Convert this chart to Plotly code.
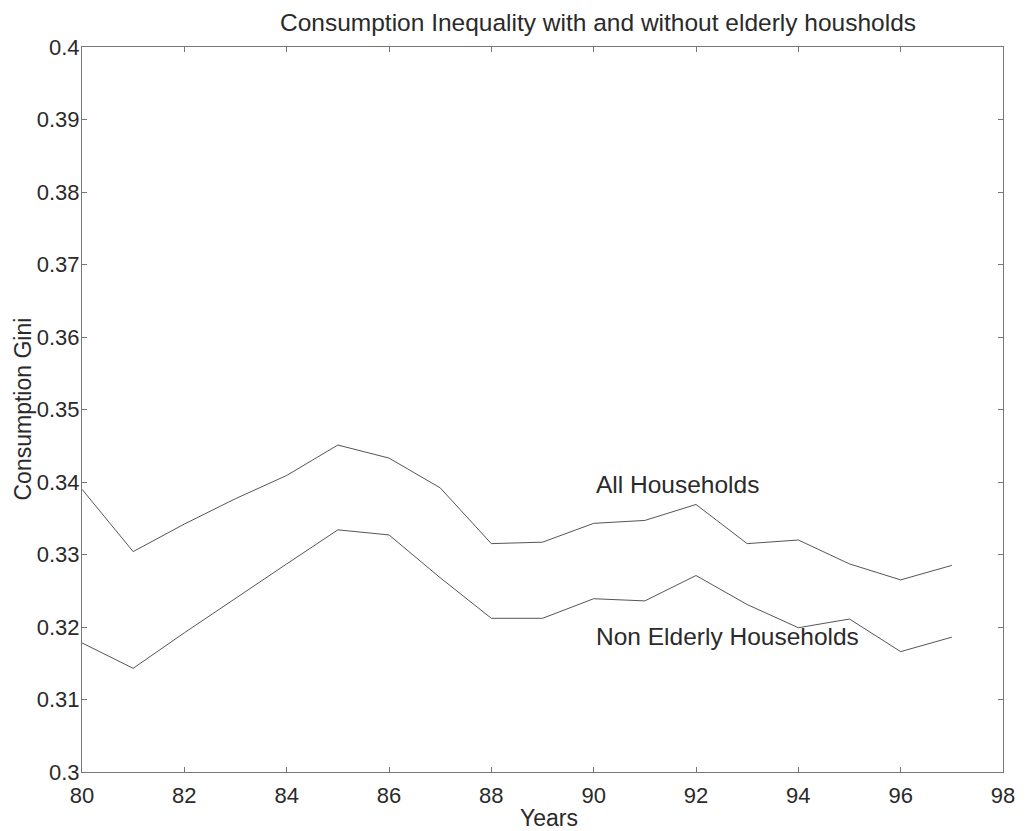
import plotly.graph_objects as go

years = [80, 81, 82, 83, 84, 85, 86, 87, 88, 89, 90, 91, 92, 93, 94, 95, 96, 97]
all_households = [0.3390, 0.3304, 0.3342, 0.3377, 0.3409, 0.3451, 0.3433, 0.3392,
                  0.3315, 0.3317, 0.3343, 0.3347, 0.3369, 0.3315, 0.3320, 0.3287,
                  0.3265, 0.3285]
non_elderly = [0.3178, 0.3143, 0.3192, 0.3240, 0.3287, 0.3334, 0.3327, 0.3268,
               0.3212, 0.3212, 0.3239, 0.3236, 0.3271, 0.3231, 0.3199, 0.3211,
               0.3166, 0.3186]

x_ticks = [80, 82, 84, 86, 88, 90, 92, 94, 96, 98]
y_ticks = [0.30, 0.31, 0.32, 0.33, 0.34, 0.35, 0.36, 0.37, 0.38, 0.39, 0.40]
y_tick_text = ["0.3", "0.31", "0.32", "0.33", "0.34", "0.35", "0.36", "0.37", "0.38", "0.39", "0.4"]

FONT = "Liberation Sans, Arial, Helvetica, sans-serif"
INK = "#2a2a2a"
LINE = "#555555"
AXIS = "#777777"

fig = go.Figure()
fig.add_trace(go.Scatter(x=years, y=all_households, mode="lines",
                         line=dict(color=LINE, width=1), name="All Households"))
fig.add_trace(go.Scatter(x=years, y=non_elderly, mode="lines",
                         line=dict(color=LINE, width=1), name="Non Elderly Households"))

axis_common = dict(
    showgrid=False, zeroline=False, showline=True, linecolor=AXIS, linewidth=1,
    mirror="ticks", ticks="inside", ticklen=5, tickcolor=AXIS, tickwidth=1,
    tickfont=dict(family=FONT, size=22, color=INK),
)

fig.update_layout(
    width=1029, height=831,
    margin=dict(l=82, r=26, t=47, b=59),
    paper_bgcolor="white", plot_bgcolor="white",
    showlegend=False,
    font=dict(family=FONT, color=INK),
    xaxis=dict(range=[80, 98], tickvals=x_ticks, ticktext=[str(v) for v in x_ticks],
               ticklabelstandoff=4, **axis_common),
    yaxis=dict(range=[0.3, 0.4], tickvals=y_ticks, ticktext=y_tick_text,
               ticklabelstandoff=-3, **axis_common),
    annotations=[
        dict(text="Consumption Inequality with and without elderly housholds",
             xref="paper", yref="paper", x=(597.5 - 82) / 921, y=1.0, yanchor="middle",
             xanchor="center", yshift=25, showarrow=False,
             font=dict(family=FONT, size=24.5, color=INK)),
        dict(text="Years", xref="paper", yref="paper", x=(549 - 82) / 921, y=0, yanchor="middle",
             xanchor="center", yshift=-46, showarrow=False,
             font=dict(family=FONT, size=23, color=INK)),
        dict(text="Consumption Gini", xref="paper", yref="paper", x=0, y=0.5,
             xanchor="center", yanchor="middle", xshift=-60, textangle=-90, showarrow=False,
             font=dict(family=FONT, size=23, color=INK)),
        dict(text="All Households", x=90.0, y=0.3397, xanchor="left", yanchor="middle",
             showarrow=False, font=dict(family=FONT, size=24.5, color=INK)),
        dict(text="Non Elderly Households", x=90.0, y=0.3187, xanchor="left", yanchor="middle",
             showarrow=False, font=dict(family=FONT, size=24.5, color=INK)),
    ],
)

fig.write_html("out.html")
